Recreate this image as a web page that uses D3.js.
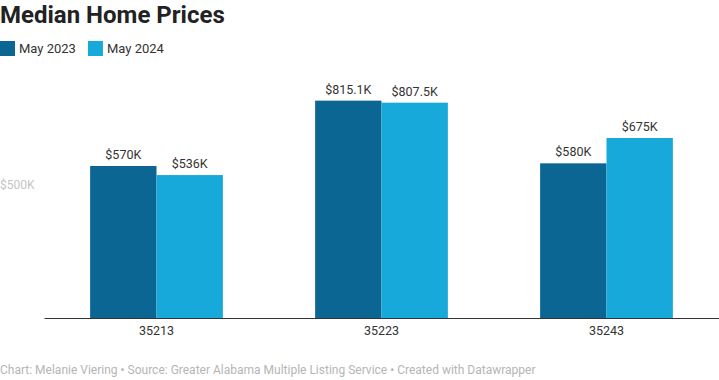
<!DOCTYPE html>
<html>
<head>
<meta charset="utf-8">
<script src="https://cdn.jsdelivr.net/npm/d3@7"></script>
<style>
  body { margin: 0; background: #fff; }
  svg { display: block; font-family: Roboto, "Noto Sans", sans-serif; }
</style>
</head>
<body>
<svg width="719" height="380"></svg>
<script>
const zips = ["35213", "35223", "35243"];
const seriesNames = ["May 2023", "May 2024"];
const may2023 = [570, 815.1, 580];
const may2024 = [536, 807.5, 675];
const labels2023 = ["$570K", "$815.1K", "$580K"];
const labels2024 = ["$536K", "$807.5K", "$675K"];
const yTicks = [500];
const colors = ["#0b6694", "#17a9d9"];

const svg = d3.select("svg");
const width = 719;
const baseY = 318;

const x0 = d3.scaleBand().domain(zips).range([44, width]).paddingInner(0.41).paddingOuter(0.205);
const x1 = d3.scaleBand().domain(seriesNames).range([0, x0.bandwidth()]);
const y = d3.scaleLinear().domain([0, 900]).range([baseY, baseY - 240]);

// title
svg.append("text").attr("x", 0).attr("y", 23)
    .attr("font-size", "24px").attr("font-weight", "bold").attr("fill", "#222")
    .text("Median Home Prices");

// legend
const leg = svg.append("g").attr("transform", "translate(0, 41)");
let lx = 0;
seriesNames.forEach((name, i) => {
    leg.append("rect").attr("x", lx).attr("y", 0).attr("width", 15).attr("height", 15).attr("fill", colors[i]);
    const t = leg.append("text").attr("x", lx + 19).attr("y", 12)
        .attr("font-size", "13px").attr("fill", "#333").text(name);
    lx += 19 + t.node().getComputedTextLength() + 12;
});

// y tick label
svg.selectAll(".ytick").data(yTicks).enter().append("text")
    .attr("class", "ytick")
    .attr("x", 0).attr("y", d => y(d) + 4)
    .attr("font-size", "12px").attr("fill", "#c4c4c4")
    .text(d => "$" + d + "K");

const data = zips.map((z, i) => ({zip: z, vals: [
    {s: seriesNames[0], v: may2023[i], l: labels2023[i]},
    {s: seriesNames[1], v: may2024[i], l: labels2024[i]}
]}));

const groups = svg.selectAll(".grp").data(data).enter().append("g")
    .attr("class", "grp")
    .attr("transform", d => `translate(${x0(d.zip)},0)`);

groups.selectAll("rect").data(d => d.vals).enter().append("rect")
    .attr("x", d => x1(d.s))
    .attr("y", d => y(d.v))
    .attr("width", x1.bandwidth())
    .attr("height", d => baseY - y(d.v))
    .attr("fill", (d, i) => colors[i]);

groups.selectAll(".val").data(d => d.vals).enter().append("text")
    .attr("class", "val")
    .attr("x", d => x1(d.s) + x1.bandwidth() / 2)
    .attr("y", d => y(d.v) - 7)
    .attr("text-anchor", "middle").attr("font-size", "12.5px").attr("fill", "#333")
    .text(d => d.l);

// x axis
const xAxis = svg.append("g").attr("transform", `translate(0,${baseY})`)
    .call(d3.axisBottom(x0).tickSize(0).tickPadding(8));
xAxis.select(".domain").attr("stroke", "#333").attr("stroke-width", 1.2);
xAxis.selectAll("text").attr("font-size", "12.5px").attr("fill", "#333")
    .attr("font-family", "Roboto, sans-serif");

// footer
svg.append("text").attr("x", 0).attr("y", 374)
    .attr("font-size", "12px").attr("fill", "#b5b5b5")
    .text("Chart: Melanie Viering • Source: Greater Alabama Multiple Listing Service • Created with Datawrapper");
</script>
</body>
</html>
